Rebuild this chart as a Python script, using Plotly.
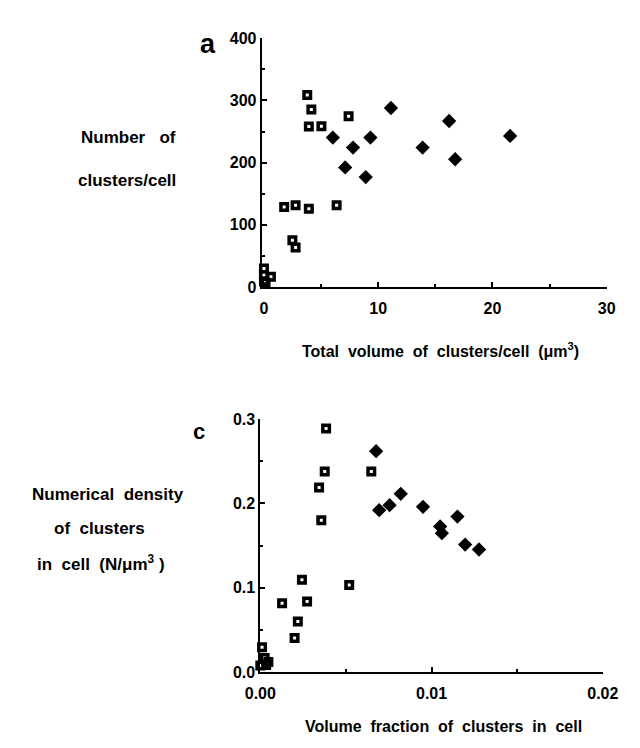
import plotly.graph_objects as go

# Panel a: total volume of clusters/cell vs number of clusters/cell
a_sq_x = [3.79, 4.15, 3.93, 5.03, 7.41, 1.77, 2.77, 3.93, 6.36, 2.49, 2.77, 0.0, 0.0, 0.61, 0.0, 0.14]
a_sq_y = [308.7, 285.3, 258.1, 258.7, 274.8, 128.8, 131.4, 125.7, 131.4, 75.1, 63.6, 29.7, 19.3, 16.7, 8.9, 7.3]
a_di_x = [6.03, 7.11, 7.80, 8.91, 9.32, 11.12, 13.89, 16.21, 16.74, 21.55]
a_di_y = [240.4, 192.4, 224.2, 176.8, 240.4, 287.9, 224.2, 267.0, 205.5, 243.0]

# Panel c: volume fraction vs numerical density
c_sq_x = [0.00384, 0.00376, 0.00343, 0.00356, 0.00648, 0.00243, 0.00127, 0.00273, 0.00219, 0.00200,
          0.00519, 0.00010, 0.00025, 0.00047, 0.00000, 0.00034]
c_sq_y = [0.289, 0.238, 0.219, 0.180, 0.238, 0.1095, 0.0817, 0.0836, 0.060, 0.0403,
          0.1033, 0.0295, 0.0168, 0.0118, 0.0079, 0.0083]
c_di_x = [0.00676, 0.00694, 0.00755, 0.00820, 0.00950, 0.01050, 0.01060, 0.01151, 0.01196, 0.01277]
c_di_y = [0.262, 0.192, 0.198, 0.2114, 0.196, 0.1728, 0.1647, 0.1844, 0.1512, 0.1454]

a_xticks = [0, 10, 20, 30]
a_yticks = [0, 100, 200, 300, 400]
c_xticks = [0.0, 0.01, 0.02]
c_yticks = [0.0, 0.1, 0.2, 0.3]

W, H = 640, 748
FONT = "Liberation Sans, Arial, sans-serif"
NB = "\u00a0"

def px_x(p):
    return p / W

def px_y(p):
    return 1 - p / H

sq_marker = dict(symbol="square-open", size=6.5, color="black", line=dict(color="black", width=3.5))
di_marker = dict(symbol="diamond", size=11, color="black", line=dict(width=0))

fig = go.Figure()
fig.add_trace(go.Scatter(x=a_sq_x, y=a_sq_y, mode="markers", marker=sq_marker,
                         xaxis="x", yaxis="y", cliponaxis=False, showlegend=False))
fig.add_trace(go.Scatter(x=a_di_x, y=a_di_y, mode="markers", marker=di_marker,
                         xaxis="x", yaxis="y", cliponaxis=False, showlegend=False))
fig.add_trace(go.Scatter(x=c_sq_x, y=c_sq_y, mode="markers", marker=sq_marker,
                         xaxis="x2", yaxis="y2", cliponaxis=False, showlegend=False))
fig.add_trace(go.Scatter(x=c_di_x, y=c_di_y, mode="markers", marker=di_marker,
                         xaxis="x2", yaxis="y2", cliponaxis=False, showlegend=False))

axis_common = dict(showline=True, linewidth=2, linecolor="black", showgrid=False, zeroline=False,
                   ticks="inside", ticklen=5, tickwidth=2, tickcolor="black",
                   tickfont=dict(family=FONT, size=16, color="black", weight="bold"))

fig.update_layout(
    width=W, height=H,
    margin=dict(l=0, r=0, t=0, b=0),
    paper_bgcolor="white", plot_bgcolor="white",
    font=dict(family=FONT, color="black"),
    xaxis=dict(**axis_common, domain=[px_x(258.6), px_x(621.7)], range=[-0.2, 30],
               tickvals=a_xticks, ticktext=[str(v) for v in a_xticks], anchor="y",
               ticklabelstandoff=6,
               minor=dict(ticks="inside", dtick=5, ticklen=3, tickwidth=2, tickcolor="black")),
    yaxis=dict(**axis_common, domain=[px_y(285.5), px_y(31)], range=[0, 400],
               tickvals=a_yticks, ticktext=[str(v) for v in a_yticks], anchor="x",
               ticklabelstandoff=0,
               minor=dict(ticks="inside", dtick=50, ticklen=3, tickwidth=2, tickcolor="black")),
    xaxis2=dict(**axis_common, domain=[px_x(257.2), px_x(617.7)], range=[0, 0.02],
                tickvals=c_xticks, ticktext=["0.00", "0.01", "0.02"], anchor="y2",
                ticklabelstandoff=6,
                minor=dict(ticks="inside", dtick=0.005, ticklen=3, tickwidth=2, tickcolor="black")),
    yaxis2=dict(**axis_common, domain=[px_y(679.5), px_y(420.7)], range=[0, 0.3],
                tickvals=c_yticks, ticktext=["0.0", "0.1", "0.2", "0.3"], anchor="x2",
                ticklabelstandoff=0,
                minor=dict(ticks="inside", dtick=0.05, ticklen=3, tickwidth=2, tickcolor="black")),
)

def label(text, x, y, size=17, anchor="center"):
    fig.add_annotation(text=text, x=px_x(x), y=px_y(y), xref="paper", yref="paper",
                       xanchor=anchor, yanchor="middle", showarrow=False,
                       font=dict(family=FONT, size=size, color="black", weight="bold"))

label("a", 202, 37, size=27)
label("c", 193, 433, size=22)
label("Number" + NB * 3 + "of", 118, 133)
label("clusters/cell", 117, 176)
label("Total" + NB * 2 + "volume" + NB * 2 + "of" + NB * 2 + "clusters/cell" + NB * 2 + "(μm<sup>3</sup>)", 447, 350, size=16)
label("Numerical" + NB * 2 + "density", 97, 498)
label("of" + NB * 2 + "clusters", 88, 533)
label("in" + NB * 2 + "cell" + NB * 2 + "(N/μm<sup>3</sup> )", 89, 568)
label("Volume" + NB * 2 + "fraction" + NB * 2 + "of" + NB * 2 + "clusters" + NB * 2 + "in" + NB * 2 + "cell", 450, 735, size=16)

fig.write_html("out.html", config={"displayModeBar": False},
               post_script="document.body.style.margin='0';document.body.style.overflow='hidden';")
